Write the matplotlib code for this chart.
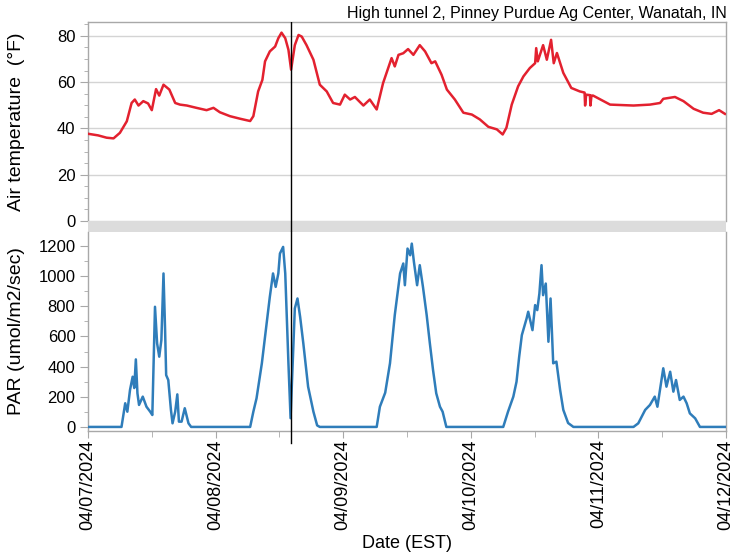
import matplotlib
matplotlib.use("Agg")
import matplotlib.pyplot as plt
import matplotlib.dates as mdates
from matplotlib.ticker import MultipleLocator
import pandas as pd

plt.rcParams['font.family'] = ['Liberation Sans', 'DejaVu Sans']

# ---------------- data (hours since 2024-04-07 00:00 EST) ----------------
start = pd.Timestamp("2024-04-07 00:00")
end = pd.Timestamp("2024-04-12 00:00")

temp_hours = [0, 1.9, 3.5, 4.8, 6.0, 7.3, 8.2, 8.8, 9.5, 10.4, 11.3, 12.0, 12.8, 13.4,
              14.2, 15.3, 16.4, 17.3, 18.6, 20.4, 22.3, 23.6, 24.8, 26.7, 28.6, 30.5,
              31.1, 32.0, 32.8, 33.3, 34.2, 35.2, 35.8, 36.4, 37.1, 37.7, 38.2, 38.9,
              39.6, 40.2, 41.1, 42.4, 43.6, 44.9, 46.1, 47.4, 48.3, 49.3, 50.2, 51.8,
              53.0, 54.3, 55.5, 57.1, 57.7, 58.4, 59.3, 60.2, 61.2, 62.4, 63.4, 64.6,
              65.3, 66.5, 67.5, 69.0, 70.6, 72.2, 73.7, 75.3, 76.9, 78.0, 78.7, 79.7,
              80.9, 81.9, 83.1, 84.1, 84.3, 84.6, 85.6, 86.3, 87.1, 87.6, 88.2, 89.4,
              90.9, 92.5, 93.4, 93.5, 93.7, 94.4, 94.5, 94.7, 95.0, 98.2, 102.6, 105.7,
              107.6, 108.2, 110.4, 112.0, 113.9, 115.7, 117.3, 118.7, 119.8]
temp_f = [37.7, 37.0, 36.0, 35.7, 38.1, 43.1, 51.0, 52.5, 49.9, 51.8, 50.8, 47.9, 57.0, 54.2,
          58.9, 56.8, 51.0, 50.3, 49.9, 48.9, 47.9, 48.9, 47.0, 45.3, 44.2, 43.2,
          45.3, 56.0, 61.0, 69.0, 73.3, 75.4, 79.0, 81.4, 79.0, 74.0, 65.4, 76.0,
          80.4, 79.7, 76.0, 69.7, 58.9, 56.0, 51.0, 50.3, 54.6, 52.5, 53.6, 49.9,
          52.5, 48.2, 59.6, 70.4, 66.8, 71.8, 72.5, 74.3, 71.8, 76.0, 73.3, 68.2,
          69.0, 63.2, 56.8, 52.5, 46.8, 46.0, 43.9, 40.7, 39.6, 37.4, 40.3, 50.3,
          58.2, 62.5, 66.1, 68.2, 74.7, 69.0, 76.0, 69.7, 78.3, 68.2, 72.6, 64.0,
          57.5, 56.0, 55.5, 49.9, 54.6, 54.4, 49.9, 54.2, 54.2, 50.3, 49.9, 50.3,
          51.0, 52.8, 53.6, 51.8, 48.5, 46.8, 46.3, 47.9, 46.3]

par_hours = [0, 6.3, 7.0, 7.4, 7.9, 8.4, 8.7, 9.0, 9.3, 9.6, 10.3, 11.0, 11.7, 12.1, 12.6,
             13.0, 13.4, 13.8, 14.2, 14.5, 14.7, 15.1, 15.6, 15.9, 16.4, 16.8, 17.1, 17.6,
             18.2, 18.9, 19.4, 30.5, 31.1, 31.7, 32.7, 33.6, 34.2, 34.8, 35.3, 35.8, 36.1,
             36.7, 37.1, 37.7, 38.1, 38.5, 38.9, 39.4, 39.9, 40.5, 41.4, 42.4, 43.1, 43.6,
             54.3, 54.9, 55.9, 56.8, 57.7, 58.7, 59.3, 59.6, 60.1, 60.6, 60.9, 61.3, 61.9,
             62.4, 63.0, 63.7, 64.3, 64.9, 65.5, 66.2, 66.7, 67.4, 78.1, 79.0, 80.0, 80.6,
             81.1, 81.6, 82.5, 82.8, 83.6, 84.1, 84.5, 84.9, 85.3, 85.6, 86.1, 86.6, 87.0,
             87.5, 88.1, 88.8, 89.4, 90.3, 91.3, 102.6, 103.5, 104.8, 105.7, 106.6, 107.1,
             108.2, 108.8, 109.5, 110.1, 110.6, 111.3, 112.0, 112.6, 113.2, 114.2, 115.1, 120]
par_vals = [0, 0, 157, 101, 245, 333, 258, 448, 223, 146, 201, 134, 101, 79, 797,
            554, 466, 576, 1018, 642, 344, 311, 113, 24, 101, 216, 35, 35,
            124, 24, 0, 0, 101, 190, 422, 687, 863, 1018, 929, 1018, 1150,
            1194, 1018, 422, 58, 422, 786, 852, 730, 554, 267, 101, 10, 0,
            0, 134, 227, 422, 742, 1018, 1084, 940, 1183, 1139, 1216, 1095, 940,
            1073, 929, 742, 554, 377, 223, 134, 101, 0, 0, 101, 201, 300,
            466, 609, 720, 764, 642, 808, 775, 885, 1073, 874, 951, 565, 852,
            422, 433, 245, 113, 26, 0, 0, 24, 113, 146, 201, 134,
            389, 267, 366, 234, 311, 179, 201, 157, 90, 57, 0, 0]

marker_hour = 38.2

title_text = "High tunnel 2, Pinney Purdue Ag Center, Wanatah, IN"
temp_label = "Air temperature  (°F)"
par_label = "PAR (umol/m2/sec)"
x_label = "Date (EST)"

# ---------------- figure ----------------
W, H = 741, 552
fig = plt.figure(figsize=(W / 100, H / 100), dpi=100)

def fx(px):
    return px / W

def fy(py):
    return 1 - py / H

L, R = 88, 726
ax_t = fig.add_axes([fx(L), fy(221), fx(R - L), fy(22) - fy(221)])
ax_g = fig.add_axes([fx(L), fy(232), fx(R - L), fy(221) - fy(232)])
ax_b = fig.add_axes([fx(L), fy(431), fx(R - L), fy(232) - fy(431)])

t_temp = start + pd.to_timedelta(temp_hours, unit="h")
t_par = start + pd.to_timedelta(par_hours, unit="h")
t_mark = start + pd.to_timedelta(marker_hour, unit="h")

red = "#e3212f"
blue = "#2f7dba"
spine_c = "#a8a8a8"
grid_c = "#d4d4d4"

ax_t.plot(t_temp, temp_f, color=red, lw=1.8, zorder=3)
ax_b.plot(t_par, par_vals, color=blue, lw=1.8, zorder=3)

for ax in (ax_t, ax_g, ax_b):
    ax.set_xlim(start, end)
    for s in ax.spines.values():
        s.set_color(spine_c)
        s.set_linewidth(1.0)

# top panel
ax_t.set_ylim(0, 86)
ax_t.yaxis.set_major_locator(MultipleLocator(20))
ax_t.yaxis.set_minor_locator(MultipleLocator(5))
ax_t.grid(axis='y', which='major', color=grid_c, lw=1.0, zorder=0)
ax_t.spines['bottom'].set_visible(False)
ax_t.tick_params(axis='x', which='both', bottom=False, labelbottom=False)
ax_t.set_ylabel(temp_label, fontsize=14)

# gray band
ax_g.set_facecolor("#dcdcdc")
ax_g.set_xticks([])
ax_g.set_yticks([])
for s in ax_g.spines.values():
    s.set_visible(False)

# bottom panel
ax_b.set_ylim(-27, 1293)
ax_b.yaxis.set_major_locator(MultipleLocator(200))
ax_b.yaxis.set_minor_locator(MultipleLocator(100))
ax_b.spines['top'].set_visible(False)
ax_b.set_ylabel(par_label, fontsize=14)
ax_b.xaxis.set_major_locator(mdates.DayLocator())
ax_b.xaxis.set_minor_locator(mdates.HourLocator(byhour=[12]))
ax_b.xaxis.set_major_formatter(mdates.DateFormatter("%m/%d/%Y"))
ax_b.tick_params(axis='x', which='major', labelsize=13, length=5, color=spine_c,
                 labelrotation=90, pad=1)
ax_b.tick_params(axis='x', which='minor', length=4, color=spine_c)

for ax in (ax_t, ax_b):
    ax.tick_params(axis='y', which='major', labelsize=12, length=6, color=spine_c, pad=3)
    ax.tick_params(axis='y', which='minor', length=3, color=spine_c)
    ax.yaxis.set_label_coords(-0.098, 0.5)

# vertical marker line
ax_t.axvline(t_mark, color="black", lw=1.0, zorder=4)
ax_g.axvline(t_mark, color="black", lw=1.0, zorder=4)
ax_b.axvline(t_mark, ymin=-0.06, ymax=1, color="black", lw=1.0, zorder=4, clip_on=False)

fig.text(fx(727), fy(18.3), title_text, ha='right', va='baseline', fontsize=11.5)
fig.text(fx(407), fy(548), x_label, ha='center', va='baseline', fontsize=13)

fig.savefig("out.png", dpi=100)
